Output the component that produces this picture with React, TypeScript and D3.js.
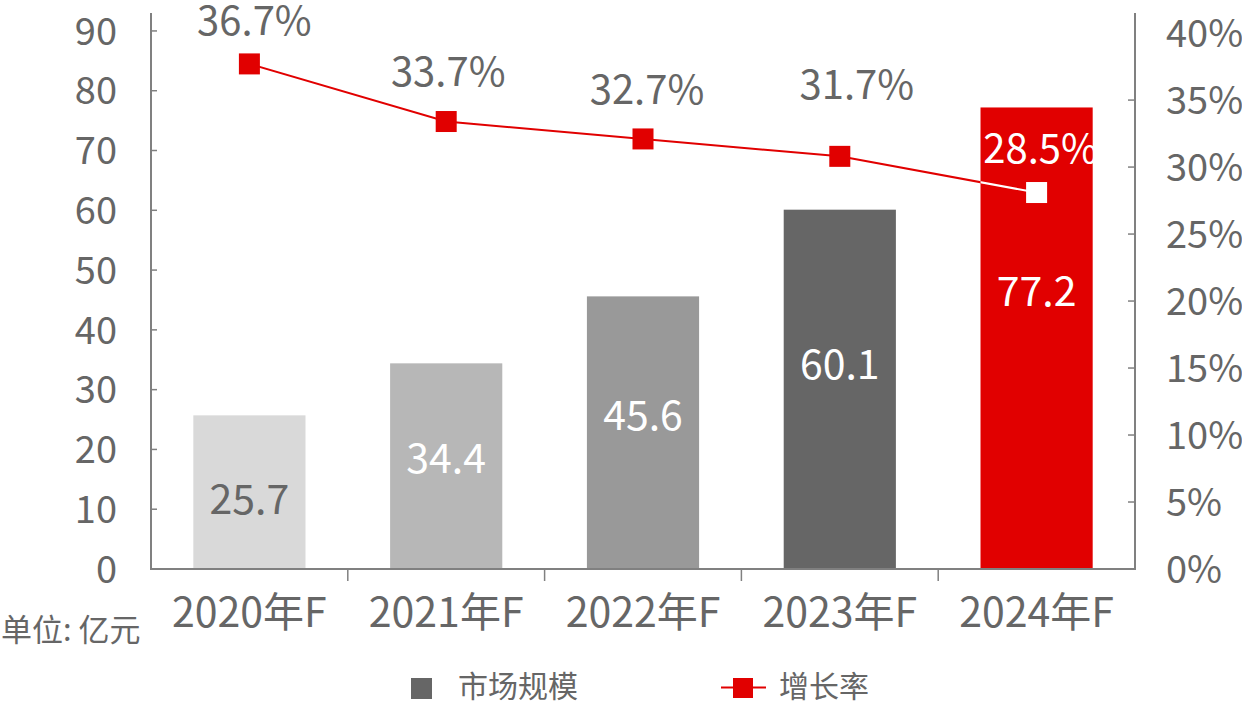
import React from 'react';
import * as d3 from 'd3';

// ---- data ----
const categories = ['2020年F', '2021年F', '2022年F', '2023年F', '2024年F'];
const marketSize = [25.7, 34.4, 45.6, 60.1, 77.2];
const marketLabels = ['25.7', '34.4', '45.6', '60.1', '77.2'];
const growthRate = [37.7, 33.4, 32.1, 30.8, 28.1];
const growthLabels = ['36.7%', '33.7%', '32.7%', '31.7%', '28.5%'];
const leftTicks = [0, 10, 20, 30, 40, 50, 60, 70, 80, 90];
const rightTicks = [0, 5, 10, 15, 20, 25, 30, 35, 40];
const seriesNames = ['市场规模', '增长率'];
const unitLabel = '单位: 亿元';

// ---- styles / layout ----
const barColors = ['#d9d9d9', '#b7b7b7', '#999999', '#666666', '#e10000'];
const barLabelColors = ['#666666', '#ffffff', '#ffffff', '#ffffff', '#ffffff'];
const barLabelFrac = [0.454, 0.537, 0.565, 0.57, 0.602];
const rateLabelOffset = [
  [5, -43],
  [2, -50],
  [4, -49],
  [17, -72],
  [4, -44],
];
const RED = '#e10000';
const TEXT = '#666666';
const AXIS = '#808080';
const FONT = '"Noto Sans CJK SC", "Noto Sans", sans-serif';

const W = 1242;
const H = 706;
const X0 = 151;
const X1 = 1135;
const Y0 = 569;
const YTOP = 13;

export default function App() {
  const x = d3
    .scaleBand<string>()
    .domain(categories)
    .range([X0, X1])
    .paddingInner(0.43)
    .paddingOuter(0.215);
  const yL = d3.scaleLinear().domain([0, 93]).range([Y0, YTOP]);
  const yR = d3.scaleLinear().domain([0, 41.5]).range([Y0, YTOP]);
  const step = x.step();
  const bw = x.bandwidth();
  const cx = (c: string) => (x(c) as number) + bw / 2;

  const line = d3
    .line<number>()
    .x((_, i) => cx(categories[i]))
    .y((d) => yR(d));
  const linePath = line(growthRate) || '';

  const lastCat = categories[categories.length - 1];
  const lastBarX = x(lastCat) as number;
  const lastBarY = yL(marketSize[marketSize.length - 1]);

  const MS = 21;

  return (
    <svg
      width={W}
      height={H}
      style={{ position: 'absolute', left: 0, top: 0, background: '#fff' }}
      fontFamily={FONT}
    >
      <defs>
        <clipPath id="lastBarClip">
          <rect x={lastBarX} y={lastBarY} width={bw} height={Y0 - lastBarY} />
        </clipPath>
      </defs>

      {/* bars */}
      {categories.map((c, i) => (
        <rect
          key={c}
          x={x(c)}
          y={yL(marketSize[i])}
          width={bw}
          height={Y0 - yL(marketSize[i])}
          fill={barColors[i]}
        />
      ))}

      {/* axes */}
      <line x1={X0} x2={X0} y1={YTOP} y2={Y0} stroke={AXIS} strokeWidth={2} />
      <line x1={X1} x2={X1} y1={YTOP} y2={Y0} stroke={AXIS} strokeWidth={2} />
      <line x1={X0 - 1} x2={X1 + 1} y1={Y0} y2={Y0} stroke={AXIS} strokeWidth={2} />
      {leftTicks.map((t) => (
        <g key={'l' + t}>
          {t > 0 && (
            <line x1={X0} x2={X0 + 6} y1={yL(t)} y2={yL(t)} stroke={AXIS} strokeWidth={1.5} />
          )}
          <text
            x={117}
            y={yL(t) + 0.36 * 38}
            textAnchor="end"
            fontSize={38}
            fill={TEXT}
          >
            {t}
          </text>
        </g>
      ))}
      {rightTicks.map((t) => (
        <g key={'r' + t}>
          {t > 0 && t < 40 && (
            <line x1={X1 - 7} x2={X1} y1={yR(t)} y2={yR(t)} stroke={AXIS} strokeWidth={1.5} />
          )}
          <text x={1166} y={yR(t) + 0.36 * 38} fontSize={38} fill={TEXT}>
            {t + '%'}
          </text>
        </g>
      ))}
      {categories.slice(1).map((c, i) => (
        <line
          key={'xt' + c}
          x1={X0 + (i + 1) * step}
          x2={X0 + (i + 1) * step}
          y1={Y0}
          y2={Y0 + 12}
          stroke={AXIS}
          strokeWidth={1.5}
        />
      ))}
      {categories.map((c) => (
        <text
          key={'xl' + c}
          x={cx(c)}
          y={612.5 + 0.36 * 41}
          textAnchor="middle"
          fontSize={41}
          fill={TEXT}
        >
          {c}
        </text>
      ))}

      {/* growth line */}
      <path d={linePath} fill="none" stroke={RED} strokeWidth={2} />
      <path d={linePath} fill="none" stroke="#ffffff" strokeWidth={2} clipPath="url(#lastBarClip)" />
      {growthRate.map((r, i) => (
        <rect
          key={'m' + i}
          x={cx(categories[i]) - MS / 2}
          y={yR(r) - MS / 2}
          width={MS}
          height={MS}
          fill={i === growthRate.length - 1 ? '#ffffff' : RED}
        />
      ))}

      {/* bar labels */}
      {categories.map((c, i) => {
        const h = Y0 - yL(marketSize[i]);
        const yc = Y0 - h * barLabelFrac[i];
        return (
          <text
            key={'bl' + c}
            x={cx(c)}
            y={yc + 0.36 * 41}
            textAnchor="middle"
            fontSize={41}
            fill={barLabelColors[i]}
          >
            {marketLabels[i]}
          </text>
        );
      })}

      {/* rate labels */}
      {growthRate.map((r, i) => (
        <text
          key={'rl' + i}
          x={cx(categories[i]) + rateLabelOffset[i][0]}
          y={yR(r) + rateLabelOffset[i][1] + 0.36 * 40}
          textAnchor="middle"
          fontSize={40}
          fill={i === growthRate.length - 1 ? '#ffffff' : TEXT}
        >
          {growthLabels[i]}
        </text>
      ))}

      {/* unit label */}
      <text x={1} y={641} fontSize={31} fill={TEXT}>
        {unitLabel}
      </text>

      {/* legend */}
      <rect x={411} y={678} width={21} height={21} fill="#666666" />
      <text x={458} y={697} fontSize={30} fill={TEXT}>
        {seriesNames[0]}
      </text>
      <line x1={721} x2={766} y1={687.5} y2={687.5} stroke={RED} strokeWidth={2} />
      <rect x={733} y={678} width={20} height={20} fill={RED} />
      <text x={779} y={697} fontSize={30} fill={TEXT}>
        {seriesNames[1]}
      </text>
    </svg>
  );
}
